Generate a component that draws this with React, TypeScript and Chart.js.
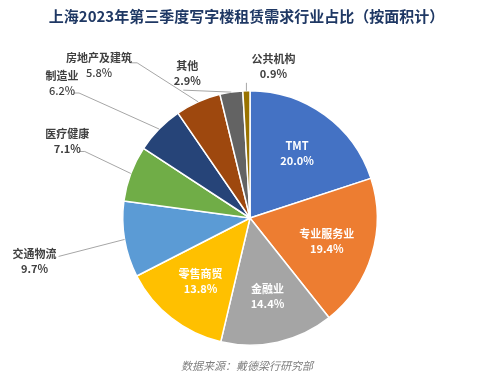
import React, { useEffect, useRef } from "react";
import { Chart, registerables } from "chart.js";

Chart.register(...registerables);

const titleText = "上海2023年第三季度写字楼租赁需求行业占比（按面积计）";
const sourceText = "数据来源：戴德梁行研究部";

const categories = [
  "TMT",
  "专业服务业",
  "金融业",
  "零售商贸",
  "交通物流",
  "医疗健康",
  "制造业",
  "房地产及建筑",
  "其他",
  "公共机构",
];
const shares = [20.0, 19.4, 14.4, 13.8, 9.7, 7.1, 6.2, 5.8, 2.9, 0.9];
const sliceColors = [
  "#4472C4",
  "#ED7D31",
  "#A5A5A5",
  "#FFC000",
  "#5B9BD5",
  "#70AD47",
  "#264478",
  "#9E480E",
  "#636363",
  "#997300",
];

// Inside labels (white) vs. outside labels (dark with leader lines)
const insideLabels = ["TMT", "专业服务业", "金融业", "零售商贸"];

// Layout for outside labels: label centre offset from slice edge point, and leader path points (offsets from edge point)
const outsideLayout: Record<string, { label: [number, number]; path: [number, number][]; pctWeight: string }> = {
  交通物流: { label: [-90, 22], path: [[-66, 17]], pctWeight: "bold" },
  医疗健康: { label: [-63.5, -32], path: [[-46, -22], [-52, -22]], pctWeight: "bold" },
  制造业: { label: [-97, -46], path: [[-80, -36], [-86, -36]], pctWeight: "500" },
  房地产及建筑: { label: [-99, -37], path: [[-61, -39], [-68, -39]], pctWeight: "500" },
  其他: { label: [-44, -19], path: [[-48, -2]], pctWeight: "bold" },
  公共机构: { label: [27, -24.5], path: [[0, -8]], pctWeight: "bold" },
};

const FONT = '"Noto Sans CJK SC", "Noto Sans", sans-serif';

const labelPlugin = {
  id: "customLabels",
  afterDatasetsDraw(chart: any) {
    const ctx: CanvasRenderingContext2D = chart.ctx;
    const meta = chart.getDatasetMeta(0);
    ctx.save();
    meta.data.forEach((arc: any, i: number) => {
      const { x, y, startAngle, endAngle, outerRadius } = arc.getProps(
        ["x", "y", "startAngle", "endAngle", "outerRadius"],
        true
      );
      const mid = (startAngle + endAngle) / 2;
      const name = categories[i];
      const pct = shares[i].toFixed(1) + "%";
      if (insideLabels.includes(name)) {
        const r = outerRadius * 0.63;
        const cx = x + Math.cos(mid) * r;
        const cy = y + Math.sin(mid) * r;
        ctx.fillStyle = "#FFFFFF";
        ctx.textAlign = "center";
        ctx.textBaseline = "middle";
        ctx.font = `bold 11px ${FONT}`;
        ctx.fillText(name, cx, cy - 7.5);
        ctx.fillText(pct, cx, cy + 7.5);
      } else {
        const lay = outsideLayout[name];
        const ex = x + Math.cos(mid) * outerRadius;
        const ey = y + Math.sin(mid) * outerRadius;
        ctx.strokeStyle = "#A6A6A6";
        ctx.lineWidth = 1;
        ctx.beginPath();
        ctx.moveTo(ex, ey);
        lay.path.forEach(([dx, dy]) => ctx.lineTo(ex + dx, ey + dy));
        ctx.stroke();
        const lx = ex + lay.label[0];
        const ly = ey + lay.label[1];
        ctx.fillStyle = "#404040";
        ctx.textAlign = "center";
        ctx.textBaseline = "middle";
        ctx.font = `bold 11px ${FONT}`;
        ctx.fillText(name, lx, ly - 7.5);
        ctx.font = `${lay.pctWeight} 11px ${FONT}`;
        ctx.fillText(pct, lx, ly + 7.5);
      }
    });
    ctx.restore();
  },
  afterDraw(chart: any) {
    const ctx: CanvasRenderingContext2D = chart.ctx;
    ctx.save();
    ctx.textAlign = "center";
    ctx.textBaseline = "middle";
    ctx.fillStyle = "#1F3864";
    ctx.font = `bold 15px ${FONT}`;
    ctx.fillText(titleText, 246.5, 16);
    ctx.fillStyle = "#7F7F7F";
    ctx.font = `italic 11px ${FONT}`;
    ctx.fillText(sourceText, 247, 366);
    ctx.restore();
  },
};

export default function App() {
  const canvasRef = useRef<HTMLCanvasElement>(null);
  useEffect(() => {
    document.body.style.margin = "0";
    const canvas = canvasRef.current;
    if (!canvas) return;
    const chart = new Chart(canvas, {
      type: "pie",
      data: {
        labels: categories,
        datasets: [
          {
            data: shares,
            backgroundColor: sliceColors,
            borderColor: "#FFFFFF",
            borderWidth: 1.5,
          },
        ],
      },
      options: {
        responsive: false,
        animation: false,
        devicePixelRatio: 1,
        layout: { padding: { top: 90, bottom: 32, left: 0, right: 0 } },
        plugins: {
          legend: { display: false },
          title: { display: false },
          tooltip: { enabled: false },
        },
      },
      plugins: [labelPlugin],
    });
    return () => chart.destroy();
  }, []);
  return (
    <div style={{ position: "fixed", left: 0, top: 0, width: 500, height: 378, background: "#FFFFFF" }}>
      <canvas ref={canvasRef} width={500} height={378} />
    </div>
  );
}
